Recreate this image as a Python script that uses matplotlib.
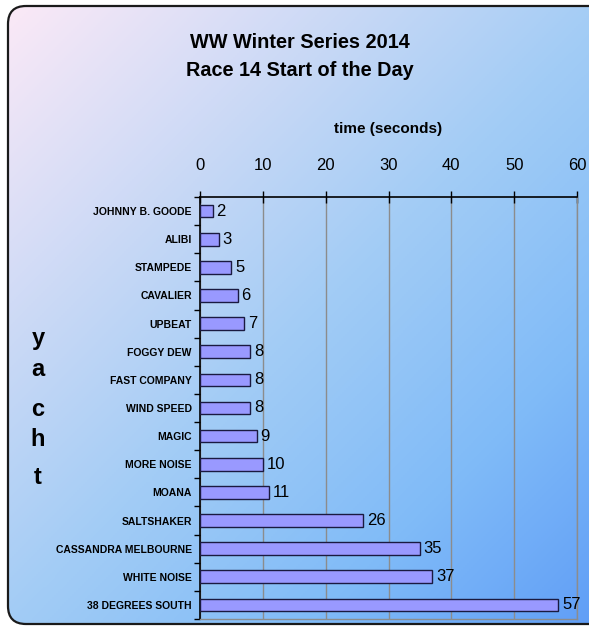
import numpy as np
import matplotlib
matplotlib.use("Agg")
import matplotlib.pyplot as plt
from matplotlib.patches import FancyBboxPatch
from matplotlib.colors import LinearSegmentedColormap

yachts = ["JOHNNY B. GOODE", "ALIBI", "STAMPEDE", "CAVALIER", "UPBEAT",
          "FOGGY DEW", "FAST COMPANY", "WIND SPEED", "MAGIC", "MORE NOISE",
          "MOANA", "SALTSHAKER", "CASSANDRA MELBOURNE", "WHITE NOISE",
          "38 DEGREES SOUTH"]
times = [2, 3, 5, 6, 7, 8, 8, 8, 9, 10, 11, 26, 35, 37, 57]
xticks = [0, 10, 20, 30, 40, 50, 60]

plt.rcParams['font.family'] = ['Liberation Sans', 'DejaVu Sans']

W, H = 589, 628
fig = plt.figure(figsize=(W / 100, H / 100), dpi=100)
fig.patch.set_facecolor('white')

# background gradient
bg = fig.add_axes([0, 0, 1, 1], zorder=0)
bg.set_xlim(0, W)
bg.set_ylim(H, 0)
bg.axis('off')
xx, yy = np.meshgrid(np.linspace(0, 1, 300), np.linspace(0, 1, 300))
t = (xx * 0.5 + yy * 0.5)
cmap = LinearSegmentedColormap.from_list(
    'g', [(0, '#fbe9f7'), (0.5, '#a2ccf5'), (0.75, '#80bbf8'), (1, '#5e9cf6')])
box = FancyBboxPatch((8, 6), W + 20, H - 10, boxstyle='round,pad=0,rounding_size=18',
                     facecolor='none', edgecolor='#1a1a1a', linewidth=1.6)
im = bg.imshow(t, cmap=cmap, extent=(8, W + 28, H - 4, 6), aspect='auto', zorder=0)
bg.add_patch(box)
im.set_clip_path(box)

ax = fig.add_axes([200 / W, 1 - 619 / H, 377 / W, 422 / H], zorder=1)
ax.patch.set_alpha(0)
y = np.arange(len(yachts))
ax.barh(y, times, height=0.45, color='#9999ff', edgecolor='#1a1a40', linewidth=1.0, zorder=3)
for yi, v in zip(y, times):
    ax.text(v + 0.6, yi, str(v), va='center', ha='left', fontsize=12, zorder=4)

ax.set_xlim(0, 60)
ax.set_ylim(len(yachts) - 0.5, -0.5)
ax.xaxis.tick_top()
ax.xaxis.set_label_position('top')
ax.set_xticks(xticks)
ax.set_xticklabels([str(v) for v in xticks], fontsize=12)
ax.tick_params(axis='x', direction='inout', length=8, width=1, pad=13)
ax.set_xlabel('time (seconds)', fontsize=11, fontweight='bold', labelpad=18)
ax.grid(axis='x', color='#8c8c8c', linewidth=1, zorder=1)

ax.set_yticks(y)
ax.set_yticklabels(yachts, fontsize=7.5, fontweight='bold')
ax.tick_params(axis='y', length=0, pad=6)
ax.set_yticks(np.arange(-0.5, len(yachts), 1), minor=True)
ax.tick_params(axis='y', which='minor', length=4, direction='out', width=1)

for s in ['left', 'top']:
    ax.spines[s].set_color('black')
    ax.spines[s].set_linewidth(1.2)
for s in ['right', 'bottom']:
    ax.spines[s].set_color('#8c8c8c')
    ax.spines[s].set_linewidth(1)

fig.text(300 / W, 1 - 42 / H, 'WW Winter Series 2014', ha='center', va='center',
         fontsize=14.3, fontweight='bold')
fig.text(300 / W, 1 - 71 / H, 'Race 14 Start of the Day', ha='center', va='center',
         fontsize=14.3, fontweight='bold')
for ch, yp in zip('yacht', [338, 369, 409, 440, 478]):
    fig.text(38 / W, 1 - yp / H, ch, ha='center', va='center', fontsize=17, fontweight='bold')

fig.savefig('out.png', dpi=100)
